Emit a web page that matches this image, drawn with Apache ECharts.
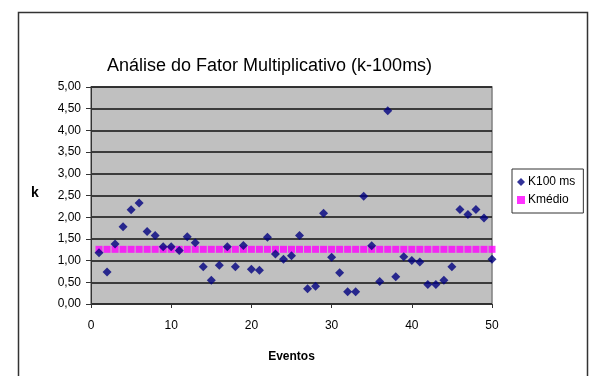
<!DOCTYPE html>
<html>
<head>
<meta charset="utf-8">
<script src="https://cdn.jsdelivr.net/npm/echarts@6/dist/echarts.min.js"></script>
<style>
html,body{margin:0;padding:0;background:#fff;}
#chart{width:589px;height:376px;}
</style>
</head>
<body>
<div id="chart"></div>
<script>
// Event numbers (x)
const events = [1,2,3,4,5,6,7,8,9,10,11,12,13,14,15,16,17,18,19,20,21,22,23,24,25,26,27,28,29,30,31,32,33,34,35,36,37,38,39,40,41,42,43,44,45,46,47,48,49,50];
// K100 ms values
const k100ms = [1.18,0.74,1.38,1.78,2.17,2.33,1.67,1.58,1.32,1.32,
                1.23,1.55,1.41,0.86,0.55,0.89,1.32,0.86,1.35,0.80,
                0.78,1.54,1.15,1.03,1.11,1.58,0.35,0.41,2.09,1.08,
                0.72,0.28,0.28,2.48,1.34,0.52,4.45,0.63,1.09,1.00,
                0.97,0.45,0.45,0.55,0.86,2.18,2.06,2.18,1.98,1.03];
// Kmédio (mean) level
const kMedio = [1.26,1.26,1.26,1.26,1.26,1.26,1.26,1.26,1.26,1.26,
                1.26,1.26,1.26,1.26,1.26,1.26,1.26,1.26,1.26,1.26,
                1.26,1.26,1.26,1.26,1.26,1.26,1.26,1.26,1.26,1.26,
                1.26,1.26,1.26,1.26,1.26,1.26,1.26,1.26,1.26,1.26,
                1.26,1.26,1.26,1.26,1.26,1.26,1.26,1.26,1.26,1.26];
const seriesNames = ['K100 ms', 'Kmédio'];
const titleText = 'Análise do Fator Multiplicativo (k-100ms)';
const xTitle = 'Eventos';
const yTitle = 'k';

const FONT = '"Liberation Sans", Arial, sans-serif';
const chart = echarts.init(document.getElementById('chart'), null, {renderer:'canvas'});
chart.setOption({
  animation: false,
  backgroundColor: '#ffffff',
  textStyle: {fontFamily: FONT},
  title: {
    text: titleText, left: 102, top: 52,
    textStyle: {fontFamily: FONT, fontSize: 18, fontWeight: 'normal', color: '#000'}
  },
  graphic: [
    {type:'rect', z:-1, shape:{x:18.5, y:12.5, width:569, height:400},
     style:{fill:'none', stroke:'#333', lineWidth:1.5}},
    {type:'text', left: 31, top: 186,
     style:{text: yTitle, font: 'bold 14px ' + FONT, fill:'#000'}}
  ],
  legend: {
    orient: 'vertical', left: 512, top: 169,
    padding: [7, 8, 7, 5],
    itemGap: 6,
    itemWidth: 8, itemHeight: 8,
    borderColor: '#333', borderWidth: 1,
    backgroundColor: '#fff',
    textStyle: {fontFamily: FONT, fontSize: 12, color: '#000', padding:[0,0,0,-2]},
    data: [
      {name: seriesNames[0], icon: 'diamond'},
      {name: seriesNames[1], icon: 'rect'}
    ]
  },
  grid: {left: 91, top: 87, width: 401, height: 217, show: true,
         backgroundColor: '#c0c0c0', borderColor: '#808080', borderWidth: 1.5},
  xAxis: {
    type: 'value', min: 0, max: 50, interval: 10,
    name: xTitle, nameLocation: 'middle', nameGap: 47,
    nameTextStyle: {fontFamily: FONT, fontSize: 12, fontWeight: 'bold', color: '#000'},
    axisLine: {show: true, onZero: false, lineStyle: {color: '#333', width: 1}},
    axisTick: {show: true, length: 4, inside: false, lineStyle: {color: '#333'}},
    axisLabel: {fontFamily: FONT, fontSize: 12, color: '#000', margin: 16},
    splitLine: {show: false}
  },
  yAxis: {
    type: 'value', min: 0, max: 5, interval: 0.5,
    axisLine: {show: true, lineStyle: {color: '#333', width: 1}},
    axisTick: {show: true, length: 5, lineStyle: {color: '#333'}},
    axisLabel: {fontFamily: FONT, fontSize: 12, color: '#000', margin: 10,
      formatter: v => v.toFixed(2).replace('.', ',')},
    splitLine: {show: true, lineStyle: {color: '#111', width: 1.5}}
  },
  series: [
    {
      name: seriesNames[1], type: 'scatter', symbol: 'rect', symbolSize: 7,
      itemStyle: {color: '#ff00ff'},
      data: events.map((e, i) => [e, kMedio[i]]), z: 2
    },
    {
      name: seriesNames[0], type: 'scatter', symbol: 'diamond', symbolSize: 9,
      itemStyle: {color: '#000080'},
      data: events.map((e, i) => [e, k100ms[i]]), z: 3
    }
  ]
});
</script>
</body>
</html>
